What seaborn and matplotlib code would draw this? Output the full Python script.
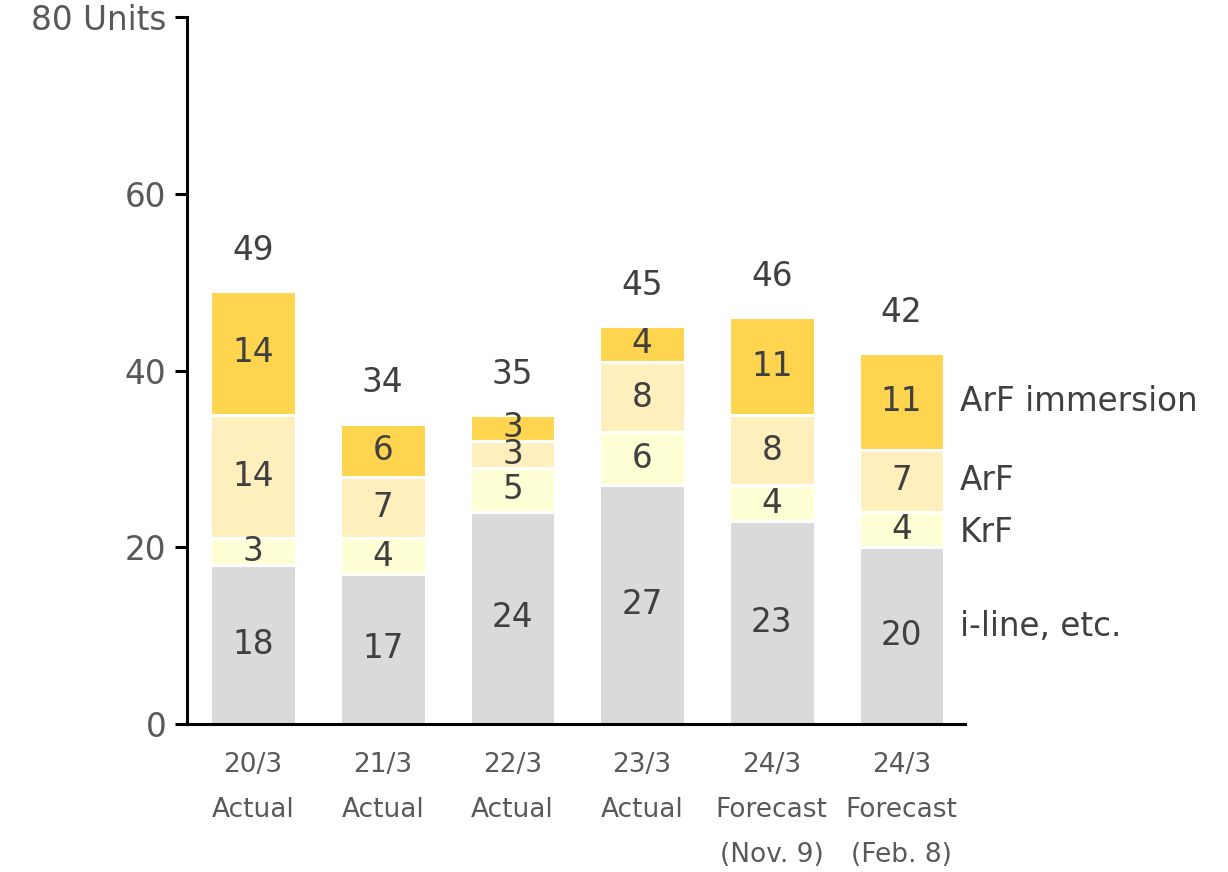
import pandas as pd
import matplotlib
matplotlib.use('Agg')
import matplotlib.pyplot as plt
import seaborn as sns

# Chart data
periods = ['20/3\nActual', '21/3\nActual', '22/3\nActual', '23/3\nActual',
           '24/3\nForecast\n(Nov. 9)', '24/3\nForecast\n(Feb. 8)']
iline = [18, 17, 24, 27, 23, 20]
krf = [3, 4, 5, 6, 4, 4]
arf = [14, 7, 3, 8, 8, 7]
arf_imm = [14, 6, 3, 4, 11, 11]
layer_names = ['i-line, etc.', 'KrF', 'ArF', 'ArF immersion']
layer_colors = ['#dadada', '#ffffd6', '#ffefbd', '#ffd44f']

sns.set_theme(style='white')
plt.rcParams['font.family'] = ['DejaVu Sans']

df = pd.DataFrame({'period': periods, 'i-line, etc.': iline, 'KrF': krf,
                   'ArF': arf, 'ArF immersion': arf_imm})

fig = plt.figure(figsize=(12.28, 8.72), dpi=100)
ax = fig.add_axes([0.1523, 0.1697, 0.6335, 0.8108])

bottom = [0] * len(periods)
for name, color in zip(layer_names, layer_colors):
    sns.barplot(data=df, x='period', y=name, bottom=bottom, color=color,
                saturation=1, width=0.66, edgecolor='white', linewidth=2.2, ax=ax)
    # segment labels
    for i, v in enumerate(df[name]):
        ax.text(i, bottom[i] + v / 2, str(v), ha='center', va='center',
                fontsize=23.5, color='#404040')
    bottom = [b + v for b, v in zip(bottom, df[name])]

# totals above each bar
for i, t in enumerate(bottom):
    ax.text(i, t + 4.6, str(t), ha='center', va='center', fontsize=23.5, color='#404040')

# series names to the right of the last bar
last = len(periods) - 1
base = 0
for name, y_off in zip(layer_names, [1, -0.3, 0, 0]):
    v = df[name].iloc[last]
    ax.text(5.45, base + v / 2 + y_off, name, ha='left', va='center',
            fontsize=23.5, color='#404040', clip_on=False)
    base += v

ax.set_xlim(-0.51, 5.49)
ax.set_ylim(0, 80)
ax.set_yticks([0, 20, 40, 60, 80])
ax.set_yticklabels(['0', '20', '40', '60', '80 Units'])
ax.set_xlabel('')
ax.set_ylabel('')

for side in ['top', 'right']:
    ax.spines[side].set_visible(False)
for side in ['left', 'bottom']:
    ax.spines[side].set_color('black')
    ax.spines[side].set_linewidth(2.2)

ax.tick_params(axis='y', direction='out', length=9, width=2.2, color='black',
               labelsize=23.5, labelcolor='#595959', pad=6, left=True)
ax.tick_params(axis='x', length=0, labelsize=19, labelcolor='#595959', pad=20)
for lbl in ax.get_xticklabels():
    lbl.set_linespacing(1.95)
    lbl.set_va('top')

fig.savefig('out.png', dpi=100)
